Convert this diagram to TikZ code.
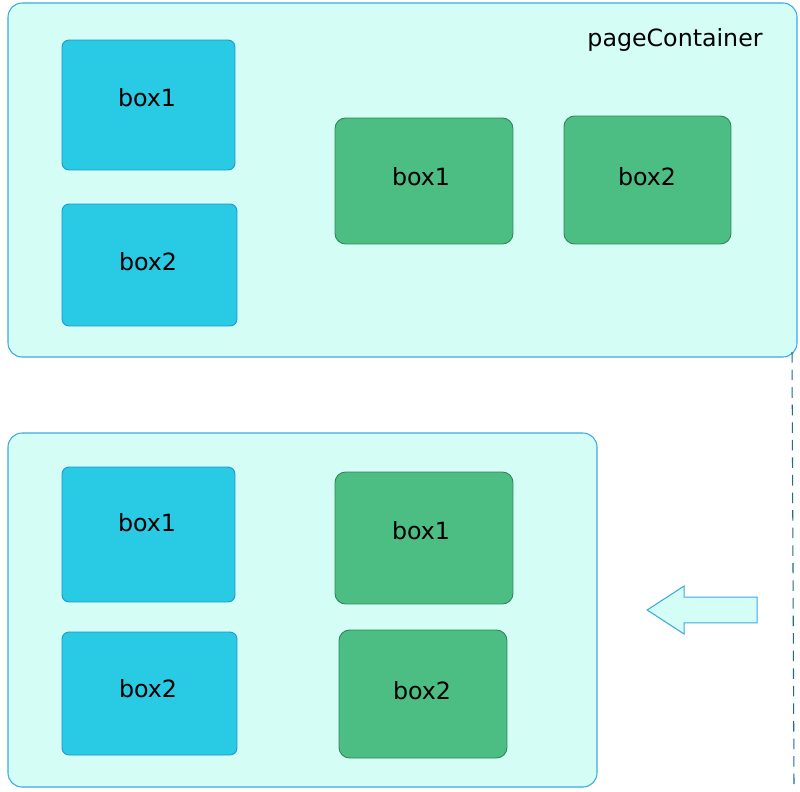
\documentclass[tikz,border=0pt]{standalone}
\usepackage{fontspec}
\setmainfont{DejaVu Sans}
\usetikzlibrary{shapes.arrows}
\definecolor{paleCyan}{HTML}{D3FDF5}
\definecolor{frameBlue}{HTML}{3AAAE2}
\definecolor{boxBlue}{HTML}{29CAE3}
\definecolor{edgeBlue}{HTML}{1F96CE}
\definecolor{boxGreen}{HTML}{4DBE83}
\definecolor{edgeGreen}{HTML}{2C8658}
\definecolor{dashBlue}{HTML}{1F6C8C}
\tikzset{container/.style={draw=frameBlue,fill=paleCyan,rounded corners=8pt,line width=0.6pt}}
\tikzset{bluebox/.style={draw=edgeBlue,fill=boxBlue,rounded corners=4pt,line width=0.5pt,inner sep=0pt}}
\tikzset{greenbox/.style={draw=edgeGreen,fill=boxGreen,rounded corners=6pt,line width=0.5pt,inner sep=0pt}}
\tikzset{lbl/.style={font=\fontsize{13.5}{16}\selectfont,inner sep=0pt}}

\begin{document}
\begin{tikzpicture}[x=0.02cm,y=-0.02cm]
    \useasboundingbox (0,0) rectangle (800,791);
    % upper container
    \draw [container] (8,3) rectangle (797,357);
    \node [lbl] (pc) at (675,40) {pageContainer};
    \node [bluebox,minimum width=3.46cm,minimum height=2.6cm] (ub1) at (148.5,105) {};
    \node [lbl] at (147,98) {box1};
    \node [bluebox,minimum width=3.5cm,minimum height=2.44cm] (ub2) at (149.5,265) {};
    \node [lbl] at (148,262) {box2};
    \node [greenbox,minimum width=3.56cm,minimum height=2.52cm] (ug1) at (424,181) {};
    \node [lbl] at (421,177) {box1};
    \node [greenbox,minimum width=3.34cm,minimum height=2.56cm] (ug2) at (647.5,180) {};
    \node [lbl] at (647,177) {box2};
    % lower container
    \draw [container] (8,433) rectangle (597,787);
    \node [bluebox,minimum width=3.46cm,minimum height=2.7cm] (lb1) at (148.5,534.5) {};
    \node [lbl] at (147,523) {box1};
    \node [bluebox,minimum width=3.5cm,minimum height=2.46cm] (lb2) at (149.5,693.5) {};
    \node [lbl] at (148,689) {box2};
    \node [greenbox,minimum width=3.56cm,minimum height=2.64cm] (lg1) at (424,538) {};
    \node [lbl] at (421,531) {box1};
    \node [greenbox,minimum width=3.36cm,minimum height=2.56cm] (lg2) at (423,694) {};
    \node [lbl] at (422,691) {box2};
    % arrow and dashed guide
    \node [single arrow,draw=frameBlue,fill=paleCyan,line width=0.6pt,
        shape border rotate=180,minimum height=2.2cm,minimum width=0.96cm,
        single arrow head extend=0.22cm,single arrow tip angle=66,inner sep=0pt,
        text height=0.52cm-1pt] (arr) at (712,610) {};
    \coordinate (dtop) at (792,352);
    \coordinate (dbot) at (794,787);
    \draw [dashBlue,dashed,dash pattern=on 6pt off 4pt,line width=0.6pt] (dtop) -- (dbot);
\end{tikzpicture}
\end{document}
